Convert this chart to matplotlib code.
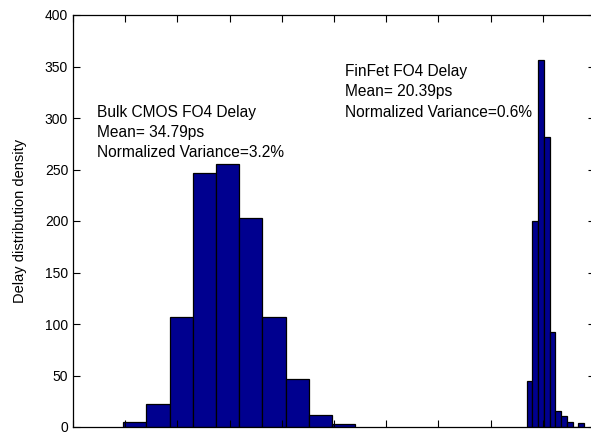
import numpy as np
import matplotlib
matplotlib.use("Agg")
import matplotlib.pyplot as plt

# histogram bin edges (x axis units: one major tick = 1) and densities
bulk_edges = [0.964, 1.408, 1.852, 2.296, 2.740, 3.184, 3.628, 4.072, 4.516, 4.960, 5.404]
bulk_density = [5, 22, 107, 247, 255, 203, 107, 47, 12, 3]

finfet_edges = [8.692, 8.802, 8.912, 9.022, 9.132, 9.242, 9.352, 9.462, 9.572, 9.682, 9.792]
finfet_density = [45, 200, 356, 282, 92, 16, 11, 5, 0, 4]

bulk_text = ["Bulk CMOS FO4 Delay", "Mean= 34.79ps", "Normalized Variance=3.2%"]
finfet_text = ["FinFet FO4 Delay", "Mean= 20.39ps", "Normalized Variance=0.6%"]

plt.rcParams['font.family'] = ['Liberation Sans', 'DejaVu Sans']

fig = plt.figure(figsize=(5.91, 4.32), dpi=100)
# axes runs past the right and bottom edge of the picture (cropped original)
ax = fig.add_axes([73 / 591, 5 / 432, 522 / 591, 412 / 432])

bar_color = '#00008F'
for edges, dens in [(bulk_edges, bulk_density), (finfet_edges, finfet_density)]:
    edges = np.array(edges)
    ax.bar(edges[:-1], dens, width=np.diff(edges), align='edge',
           color=bar_color, edgecolor='black', linewidth=0.9)

ax.set_xlim(0, 10)
ax.set_ylim(0, 400)
ax.set_xticks(np.arange(0, 11, 1))
ax.set_yticks(np.arange(0, 401, 50))
ax.tick_params(direction='in', length=5, top=True, right=True,
               labelbottom=False, labelsize=10, width=0.8)
for s in ax.spines.values():
    s.set_linewidth(0.9)

ax.set_ylabel("Delay distribution density", fontsize=10.5, labelpad=13)

for i, line in enumerate(bulk_text):
    ax.text(0.46, 305 - i * 19.4, line, fontsize=11.2, va='center', ha='left')
for i, line in enumerate(finfet_text):
    ax.text(5.21, 345 - i * 19.6, line, fontsize=11.2, va='center', ha='left')

fig.savefig("out.png", dpi=100)
